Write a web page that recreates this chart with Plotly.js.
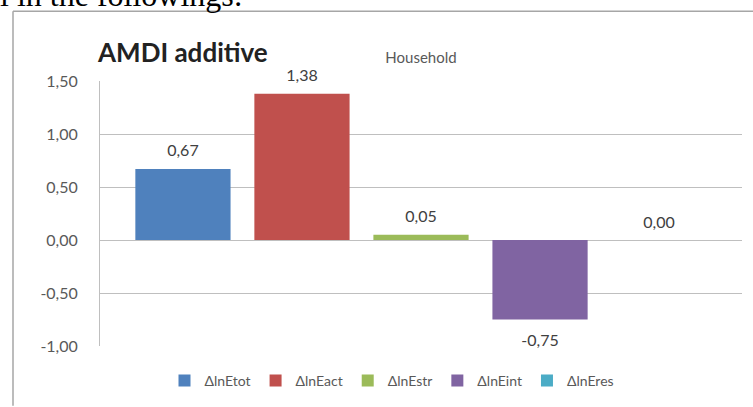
<!DOCTYPE html>
<html>
<head>
<meta charset="utf-8">
<script src="https://cdn.plot.ly/plotly-3.0.1.min.js"></script>
<style>
html,body{margin:0;padding:0;background:#fff;}
#chart{width:753px;height:407px;}
</style>
</head>
<body>
<div id="chart"></div>
<script>
// ---- data ----
const category = ['Household'];
const seriesNames = ['ΔlnEtot', 'ΔlnEact', 'ΔlnEstr', 'ΔlnEint', 'ΔlnEres'];
const seriesValues = [0.67, 1.38, 0.05, -0.75, 0.00];
const seriesColors = ['#4F81BD', '#C0504D', '#9BBB59', '#8064A2', '#4BACC6'];
const yTickValues = [-1.0, -0.5, 0.0, 0.5, 1.0, 1.5];
const yTickLabels = ['-1,00', '-0,50', '0,00', '0,50', '1,00', '1,50'];
const chartTitle = 'AMDI additive';
const pageText = 'l in the followings:';

// ---- layout geometry (pixels) ----
const W = 753, H = 407;
const L = 100, R = 11, T = 81, B = 60;
const pw = W - L - R, ph = H - T - B;
const px = x => (x - L) / pw;
const py = y => (H - B - y) / ph;

const font = 'Lato, "Open Sans", sans-serif';
const fmt = v => v.toFixed(2).replace('.', ',');

const bars = seriesNames.map((name, i) => ({
  type: 'bar',
  name: name,
  x: category,
  y: [seriesValues[i]],
  offsetgroup: 'g' + i,
  marker: {color: seriesColors[i]},
  hoverinfo: 'skip'
}));

const labels = seriesNames.map((name, i) => {
  const neg = seriesValues[i] < 0;
  return {
    type: 'scatter',
    mode: 'markers+text',
    name: name + ' label',
    showlegend: false,
    x: category,
    y: [seriesValues[i]],
    offsetgroup: 'g' + i,
    marker: {size: neg ? 21 : 12, color: 'rgba(0,0,0,0)'},
    text: [fmt(seriesValues[i])],
    textposition: neg ? 'bottom center' : 'top center',
    textfont: {family: font, size: 16, color: '#404040'},
    cliponaxis: false,
    hoverinfo: 'skip'
  };
});

const layout = {
  width: W, height: H,
  margin: {l: L, r: R, t: T, b: B, pad: 0},
  paper_bgcolor: '#ffffff',
  plot_bgcolor: '#ffffff',
  separators: ',.',
  barmode: 'group',
  bargap: 0.073,
  bargroupgap: 0.2,
  scattermode: 'group',
  scattergap: 0.073,
  font: {family: font, color: '#595959'},
  xaxis: {
    type: 'category',
    side: 'top',
    showgrid: false,
    zeroline: false,
    showline: false,
    ticks: '',
    ticklabelstandoff: 14,
    tickfont: {family: font, size: 15, color: '#595959'},
    fixedrange: true
  },
  yaxis: {
    range: [-1.0, 1.5],
    tickvals: yTickValues,
    ticktext: yTickLabels,
    showgrid: true,
    gridcolor: '#bfbfbf',
    gridwidth: 1,
    zeroline: true,
    zerolinecolor: '#bfbfbf',
    zerolinewidth: 1,
    showline: true,
    linecolor: '#bfbfbf',
    linewidth: 1,
    ticks: '',
    ticklabelstandoff: 18,
    tickfont: {family: font, size: 16, color: '#595959'},
    fixedrange: true
  },
  showlegend: true,
  legend: {
    orientation: 'h',
    x: px(392), xanchor: 'center',
    y: py(381), yanchor: 'middle',
    font: {family: font, size: 14, color: '#595959'},
    bgcolor: 'rgba(0,0,0,0)',
    itemclick: false, itemdoubleclick: false
  },
  shapes: [
    {type: 'line', xref: 'paper', yref: 'paper', x0: px(13), x1: px(753), y0: py(11), y1: py(11),
     line: {color: '#a6a6a6', width: 1.5}},
    {type: 'line', xref: 'paper', yref: 'paper', x0: px(13), x1: px(13), y0: py(11), y1: py(407),
     line: {color: '#a6a6a6', width: 1.5}}
  ],
  annotations: [
    {text: '<b>' + chartTitle + '</b>', xref: 'paper', yref: 'paper', x: px(95), xanchor: 'left',
     y: py(52), yanchor: 'middle', showarrow: false,
     font: {family: font, size: 26, color: '#222222'}},
    {text: pageText, xref: 'paper', yref: 'paper', x: px(-2), xanchor: 'left',
     y: py(-5), yanchor: 'middle', showarrow: false,
     font: {family: '"Liberation Serif", "DejaVu Serif", serif', size: 32, color: '#000000'}}
  ]
};

Plotly.newPlot('chart', bars.concat(labels), layout, {displayModeBar: false, staticPlot: true});
</script>
</body>
</html>
